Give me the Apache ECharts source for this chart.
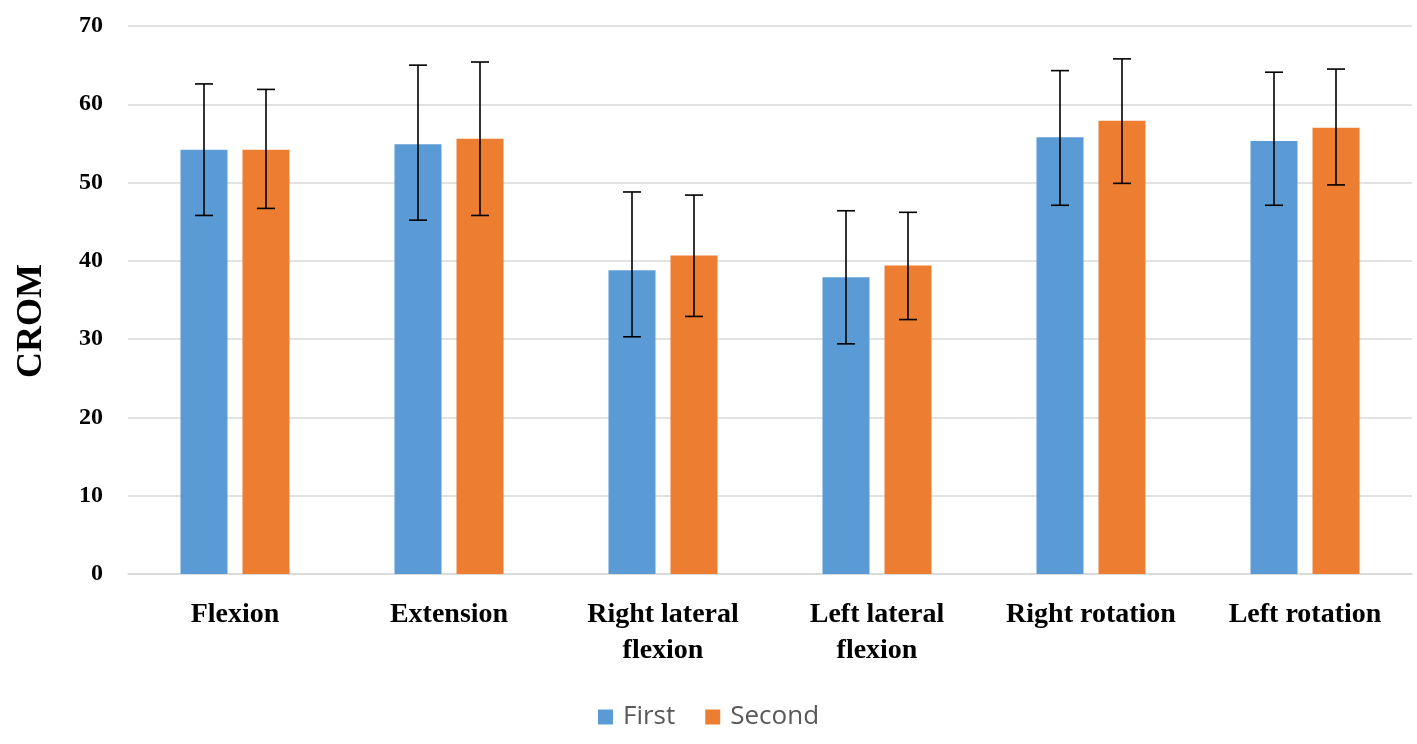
<!DOCTYPE html>
<html>
<head>
<meta charset="utf-8">
<script src="https://cdn.jsdelivr.net/npm/echarts@6/dist/echarts.min.js"></script>
<style>
  html, body { margin: 0; padding: 0; background: #fff; }
  #appBox { width: 1417px; height: 744px; }
</style>
</head>
<body>
<div id="appBox"></div>
<script>
// data
const categories = ['Flexion', 'Extension', 'Right lateral\nflexion', 'Left lateral\nflexion', 'Right rotation', 'Left rotation']
const firstMean = [54.2, 54.9, 38.8, 37.9, 55.8, 55.3]
const firstHigh = [62.6, 65.0, 48.8, 46.4, 64.3, 64.1]
const firstLow = [45.8, 45.2, 30.3, 29.4, 47.1, 47.1]
const secondMean = [54.2, 55.6, 40.7, 39.4, 57.9, 57.0]
const secondHigh = [61.9, 65.4, 48.4, 46.2, 65.8, 64.5]
const secondLow = [46.7, 45.8, 32.9, 32.5, 49.9, 49.7]
const yTicks = [0, 10, 20, 30, 40, 50, 60, 70]

const barW = 47
const barGapPx = 15
const serif = '"Liberation Serif", "Times New Roman", serif'

// error bars drawn as custom series, shifted to the bar centre
function errorSeries(low, high, shift) {
  return {
    type: 'custom',
    silent: true,
    z: 10,
    data: low.map((v, i) => [i, v, high[i]]),
    encode: { x: 0, y: [1, 2] },
    renderItem: (params, api) => {
      const lo = api.coord([api.value(0), api.value(1)])
      const hi = api.coord([api.value(0), api.value(2)])
      const x = lo[0] + shift
      const cap = 9
      const style = { stroke: '#000', lineWidth: 1.6 }
      return {
        type: 'group',
        children: [
          { type: 'line', shape: { x1: x, y1: hi[1], x2: x, y2: lo[1] }, style },
          { type: 'line', shape: { x1: x - cap, y1: hi[1], x2: x + cap, y2: hi[1] }, style },
          { type: 'line', shape: { x1: x - cap, y1: lo[1], x2: x + cap, y2: lo[1] }, style },
        ],
      }
    },
  }
}

const shift = (barW + barGapPx) / 2

const option = {
  animation: false,
  grid: {
    left: 128,
    right: 5,
    top: 26,
    bottom: 170,
  },
  legend: {
    data: ['First', 'Second'],
    bottom: 9,
    left: 'center',
    itemWidth: 15,
    itemHeight: 15,
    itemGap: 30,
    icon: 'rect',
    textStyle: {
      fontFamily: '"Open Sans", sans-serif',
      fontSize: 26,
      color: '#595959',
      padding: [0, 0, 0, 5],
    },
  },
  graphic: [
    {
      type: 'text',
      x: 32,
      y: 321,
      rotation: Math.PI / 2,
      style: {
        text: 'CROM',
        font: 'bold 36px ' + serif,
        fill: '#000',
        textAlign: 'center',
        textVerticalAlign: 'middle',
      },
    },
  ],
  xAxis: {
    type: 'category',
    data: categories,
    axisLine: { lineStyle: { color: '#d9d9d9', width: 1.5 } },
    axisTick: { show: false },
    axisLabel: {
      fontFamily: serif,
      fontWeight: 'bold',
      fontSize: 28,
      color: '#000',
      margin: 23,
      lineHeight: 36,
      interval: 0,
    },
  },
  yAxis: {
    type: 'value',
    min: yTicks[0],
    max: yTicks[yTicks.length - 1],
    interval: 10,
    axisLine: { show: false },
    axisTick: { show: false },
    splitLine: { lineStyle: { color: '#d9d9d9', width: 1.5 } },
    axisLabel: {
      fontFamily: serif,
      fontWeight: 'bold',
      fontSize: 24,
      color: '#000',
      margin: 25,
    },
  },
  series: [
    {
      name: 'First',
      type: 'bar',
      data: firstMean,
      barWidth: barW,
      barGap: (barGapPx / barW * 100) + '%',
      itemStyle: { color: '#5B9BD5' },
    },
    {
      name: 'Second',
      type: 'bar',
      data: secondMean,
      barWidth: barW,
      itemStyle: { color: '#ED7D31' },
    },
    errorSeries(firstLow, firstHigh, -shift),
    errorSeries(secondLow, secondHigh, shift),
  ],
}

const chartObj = echarts.init(document.getElementById('appBox'))
chartObj.setOption(option)
</script>
</body>
</html>
